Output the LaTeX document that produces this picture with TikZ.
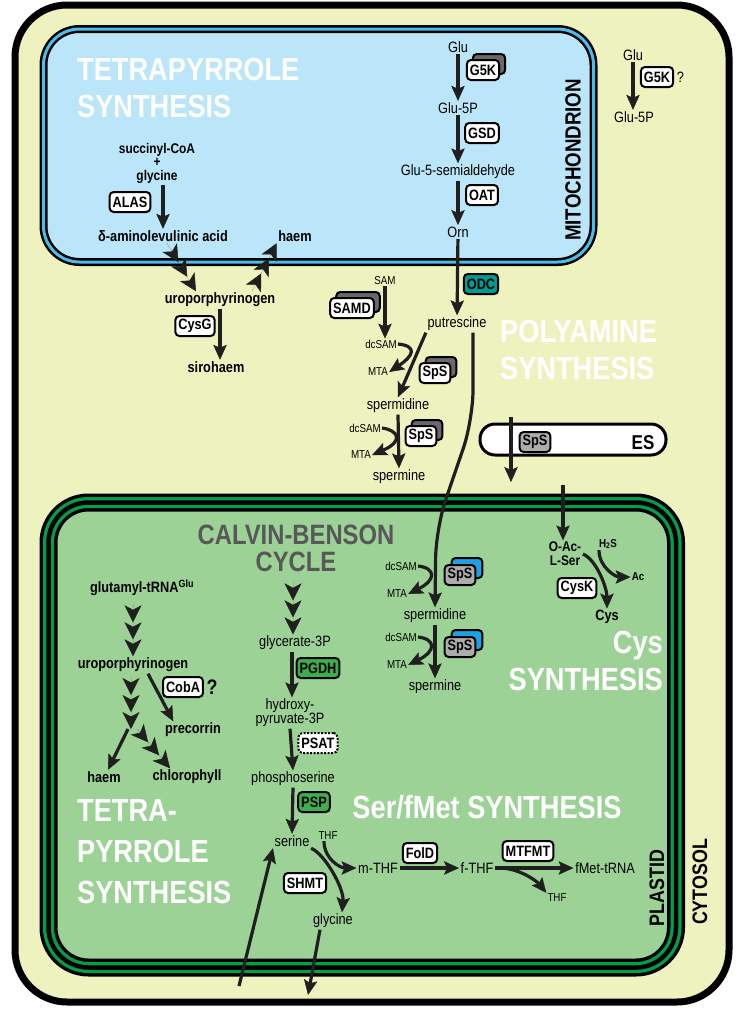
\documentclass[tikz,border=0pt]{standalone}
\usepackage{fontspec}
\setmainfont{Liberation Sans}[FakeStretch=0.85]
\usetikzlibrary{positioning, arrows.meta, shadows}

\definecolor{cytofill}{RGB}{238,242,190}
\definecolor{mitofill}{RGB}{187,229,248}
\definecolor{mitoband}{RGB}{75,188,235}
\definecolor{plastfill}{RGB}{157,210,150}
\definecolor{plastband}{RGB}{0,160,75}
\definecolor{odcteal}{RGB}{0,155,145}
\definecolor{enzgreen}{RGB}{60,175,75}
\definecolor{spsgray}{RGB}{172,172,172}
\definecolor{spsblue}{RGB}{30,160,230}
\definecolor{shadegray}{RGB}{105,105,105}
\definecolor{calvingray}{RGB}{88,88,88}
\newcommand{\fsz}[1]{\fontsize{#1}{#1}\selectfont}

\begin{document}
\begin{tikzpicture}[x=1pt, y=-1pt,
    lab/.style={font=\fsz{15}, inner sep=1.5pt},
    blab/.style={font=\bfseries\fsz{15}, inner sep=1.5pt},
    smalllab/.style={font=\fsz{11.5}, inner sep=1pt},
    bsmalllab/.style={font=\bfseries\fsz{11.5}, inner sep=1pt},
    enz/.style={draw=black, line width=2pt, rounded corners=4pt, fill=white,
      font=\bfseries\fsz{15}, inner xsep=3pt, inner ysep=0pt, minimum height=20pt},
    stack/.style={copy shadow={shadow xshift=6pt, shadow yshift=6pt, fill=shadegray}},
    bluestack/.style={fill=spsgray, copy shadow={shadow xshift=7pt, shadow yshift=7pt, fill=spsblue}},
    title/.style={font=\bfseries\fontsize{32}{37}\selectfont, text=white, inner sep=0pt, align=left},
    compart/.style={font=\bfseries\fsz{22}, rotate=90, inner sep=0pt},
    arr/.style={-{Stealth[length=15pt, width=13.5pt, inset=3pt, line width=0.5pt]},
      line width=3.2pt, color=black!88},
    chev/.style={line width=0.01pt, color=black!88,
      -{Stealth[length=17pt, width=17pt, inset=4.5pt, line width=0.5pt]
        Stealth[length=17pt, width=17pt, inset=4.5pt, line width=0.5pt]
        Stealth[length=17pt, width=17pt, inset=4.5pt, line width=0.5pt]}}
  ]
  \useasboundingbox (0,0) rectangle (739,1010);

  % compartments
  \draw[line width=7pt, fill=cytofill, rounded corners=52pt] (15,5) rectangle (729,1002);
  \draw[line width=8pt, fill=mitofill, rounded corners=36pt] (43.5,29) rectangle (593.5,262);
  \draw[line width=3pt, mitoband, rounded corners=36pt] (43.5,29) rectangle (593.5,262);
  \draw[line width=18pt, fill=plastfill, rounded corners=40pt] (48.5,502.5) rectangle (676,967.5);
  \draw[line width=11pt, plastband, rounded corners=40pt] (48.5,502.5) rectangle (676,967.5);
  \draw[line width=4.5pt, rounded corners=40pt] (48.5,502.5) rectangle (676,967.5);
  \node[draw, line width=3pt, fill=white, rounded corners=15pt,
    minimum width=186pt, minimum height=31pt] (es) at (573,439.5) {};
  \node[font=\bfseries\fsz{20}, inner sep=0pt] (eslab) at (643,443) {ES};
  \node[enz, fill=spsgray] (sps5) at (535,442) {SpS};

  % titles
  \node[title, anchor=west] (mitotitle) at (77,88) {TETRAPYRROLE\\SYNTHESIS};
  \node[title, anchor=west] (polytitle) at (500,350) {POLYAMINE\\SYNTHESIS};
  \node[title, align=right, anchor=east] (cystitle) at (663,661) {Cys\\SYNTHESIS};
  \node[title] (sertitle) at (487,807) {Ser/fMet SYNTHESIS};
  \node[title, font=\bfseries\fontsize{32}{41}\selectfont, anchor=west] (plasttitle)
    at (77,852) {TETRA-\\PYRROLE\\SYNTHESIS};
  \node[title, text=calvingray, align=center, font=\bfseries\fontsize{28}{27}\selectfont]
    (calvin) at (296,548) {CALVIN-BENSON\\CYCLE};
  \node[compart] (mitolab) at (573,160) {MITOCHONDRION};
  \node[compart, font=\bfseries\fsz{21}] (plastlab) at (657,888) {PLASTID};
  \node[compart, font=\bfseries\fsz{21}] (cytolab) at (700,882) {CYTOSOL};

  % ornithine in the mitochondrion
  \node[lab] (glu) at (458,47) {Glu};
  \node[enz, stack] (g5k) at (483,70) {G5K};
  \node[lab] (glufp) at (458,108) {Glu-5P};
  \node[enz] (gsd) at (482,133) {GSD};
  \node[lab] (gsa) at (458,172) {Glu-5-semialdehyde};
  \node[enz] (oat) at (482,195) {OAT};
  \node[lab] (orn) at (458,232) {Orn};
  \node[enz, fill=odcteal] (odc) at (481,284) {ODC};
  \node[lab] (putr) at (457,324) {putrescine};
  \draw[arr] (glu) -- (glufp);
  \draw[arr] (glufp) -- (gsa);
  \draw[arr] (gsa) -- (orn);
  \draw[arr] (orn) -- (putr);

  % cytosolic G5K
  \node[lab] (cglu) at (633,55) {Glu};
  \node[enz] (cg5k) at (657,77) {G5K};
  \node[lab, right=1pt of cg5k] (cq) {?};
  \node[lab] (cglufp) at (634,117) {Glu-5P};
  \draw[arr] (cglu) -- (cglu |- cglufp.north);

  % tetrapyrroles, mitochondrion and cytosol
  \node[blab, align=center, font=\bfseries\fontsize{14}{13.5}\selectfont] (succ)
    at (157,163) {succinyl-CoA\\+\\glycine};
  \node[enz] (alas) at (130,202) {ALAS};
  \node[blab] (ala) at (163,236) {δ-aminolevulinic acid};
  \node[blab] (haem1) at (295,236) {haem};
  \node[blab] (uro1) at (220,300) {uroporphyrinogen};
  \node[enz] (cysg) at (195,326) {CysG};
  \node[blab] (siro) at (216,367) {sirohaem};
  \draw[arr] (succ.south -| ala.north) -- (ala.north);
  \draw[chev] ([xshift=4pt]ala.south) -- ([xshift=-24pt]uro1.north);
  \draw[chev] ([xshift=32pt]uro1.north) -- (haem1.south west);
  \draw[arr] (uro1.south) -- (uro1.south |- siro.north);

  % polyamines in the cytosol
  \node[smalllab] (sam) at (385,281) {SAM};
  \node[enz, stack] (samd) at (352,308) {SAMD};
  \node[smalllab] (dcsam1) at (381,344) {dcSAM};
  \node[smalllab] (mta1) at (378,372) {MTA};
  \node[enz, stack] (sps1) at (435,373) {SpS};
  \node[lab] (spd1) at (398,406) {spermidine};
  \node[smalllab] (dcsam2) at (365,428) {dcSAM};
  \node[smalllab] (mta2) at (361,455) {MTA};
  \node[enz, stack] (sps2) at (421,436) {SpS};
  \node[lab] (spm1) at (399,477) {spermine};
  \draw[arr] (sam) -- (sam |- dcsam1.north);
  \draw[arr] (putr.south west) -- (spd1.north);
  \draw[arr] (dcsam1.east) .. controls +(20,2) and +(24,-16) .. (mta1.east);
  \draw[arr] (spd1.south) -- (spm1.north);
  \draw[arr] (dcsam2.east) .. controls +(16,2) and +(32,-14) .. (mta2.east);

  % polyamines in the plastid
  \node[smalllab] (dcsam3) at (401,566) {dcSAM};
  \node[smalllab] (mta3) at (397,594) {MTA};
  \node[enz, bluestack] (sps3) at (460,575) {SpS};
  \node[lab] (spd2) at (435,616) {spermidine};
  \node[smalllab] (dcsam4) at (401,637) {dcSAM};
  \node[smalllab] (mta4) at (397,665) {MTA};
  \node[enz, bluestack] (sps4) at (460,647) {SpS};
  \node[lab] (spm2) at (435,687) {spermine};
  \draw[arr, rounded corners=30pt] ([xshift=16pt]putr.south) -- (473,420) -- (436,528) -- (spd2.north);
  \draw[arr] (dcsam3.east) .. controls +(18,2) and +(28,-14) .. (mta3.east);
  \draw[arr] (spd2.south) -- (spm2.north);
  \draw[arr] (dcsam4.east) .. controls +(18,2) and +(28,-14) .. (mta4.east);

  % ES passage
  \coordinate (esTop) at (511,417);
  \coordinate (esBot) at (511,482);
  \draw[arr] (esTop) -- (esBot);

  % cysteine
  \coordinate (cysIn) at (563,485);
  \node[blab, align=center, font=\bfseries\fontsize{14}{14}\selectfont] (oac) at (565,554) {O-Ac-\\L-Ser};
  \node[bsmalllab] (h2s) at (608,544) {H\textsubscript{2}S};
  \node[bsmalllab] (ac) at (638,577) {Ac};
  \node[enz] (cysk) at (577,588) {CysK};
  \node[blab] (cys) at (607,617) {Cys};
  \draw[arr] (cysIn) -- ([xshift=-2pt]oac.north);
  \draw[arr] (oac.east) .. controls +(14,6) and +(0,-20) .. (cys.north);
  \draw[arr] ([xshift=-9pt]h2s.south) .. controls +(0,18) and +(-14,0) .. (ac.west);

  % tetrapyrroles in the plastid
  \node[blab] (glut) at (142,588) {glutamyl-tRNA\textsuperscript{Glu}};
  \node[blab] (uro2) at (133,665) {uroporphyrinogen};
  \node[enz] (coba) at (183,687) {CobA};
  \node[blab, font=\bfseries\fsz{21}, right=1pt of coba] (cobq) {?};
  \node[blab] (prec) at (193,730) {precorrin};
  \node[blab] (haem2) at (104,777) {haem};
  \node[blab] (chl) at (187,777) {chlorophyll};
  \coordinate (br) at (131,729);
  \draw[chev] ([yshift=52pt]uro2.north) -- (uro2.north);
  \draw[chev] ([yshift=52pt]br) -- (br);
  \draw[arr] ([xshift=15pt]uro2.south) -- ([xshift=10pt]prec.north west);
  \draw[arr] ([xshift=-3pt]br) -- ([xshift=4pt]haem2.north);
  \draw[chev] ([xshift=6pt]br) -- ([xshift=-17pt]chl.north);

  % serine and fMet
  \node[lab] (gly3p) at (295,643) {glycerate-3P};
  \node[enz, fill=enzgreen] (pgdh) at (318,668) {PGDH};
  \node[lab, align=center, font=\fontsize{15}{14}\selectfont] (hpyr) at (290,713) {hydroxy-\\pyruvate-3P};
  \node[enz, dash pattern=on 2pt off 1.5pt] (psat) at (318,743) {PSAT};
  \node[lab] (pser) at (293,779) {phosphoserine};
  \node[enz, fill=enzgreen] (psp) at (314,802) {PSP};
  \node[lab] (ser) at (292,841) {serine};
  \node[smalllab] (thf1) at (328,836) {THF};
  \node[enz] (shmt) at (305,883) {SHMT};
  \node[lab] (glyc) at (333,921) {glycine};
  \node[lab] (mthf) at (378,868) {m-THF};
  \node[enz] (fold) at (420,853) {FolD};
  \node[lab] (fthf) at (477,868) {f-THF};
  \node[enz] (mtfmt) at (528,851) {MTFMT};
  \node[lab] (fmet) at (605,868) {fMet-tRNA};
  \node[smalllab] (thf2) at (557,898) {THF};
  \coordinate (serIn) at (239,986);
  \coordinate (glyOut) at (308,995);
  \draw[chev] ([xshift=-2pt,yshift=52pt]gly3p.north) -- ([xshift=-2pt]gly3p.north);
  \draw[arr] ([xshift=-3pt]gly3p.south) -- ([xshift=2pt]hpyr.north);
  \draw[arr] (hpyr.south) -- (pser.north);
  \draw[arr] (pser.south) -- (ser.north);
  \draw[arr] (ser.south east) .. controls +(14,6) and +(2,-24) .. ([xshift=9pt]glyc.north);
  \draw[arr] ([xshift=-4pt]thf1.south) .. controls +(0,18) and +(-16,0) .. (mthf.west);
  \draw[arr] (serIn) -- (ser.south west);
  \draw[arr] ([xshift=-13pt]glyc.south) -- (glyOut);
  \draw[arr] (mthf) -- (fthf);
  \draw[arr] (fthf) -- (fmet);
  \draw[arr] ([xshift=4pt]fthf.east) .. controls +(22,0) and +(-8,-10) .. (thf2.north west);
\end{tikzpicture}
\end{document}
